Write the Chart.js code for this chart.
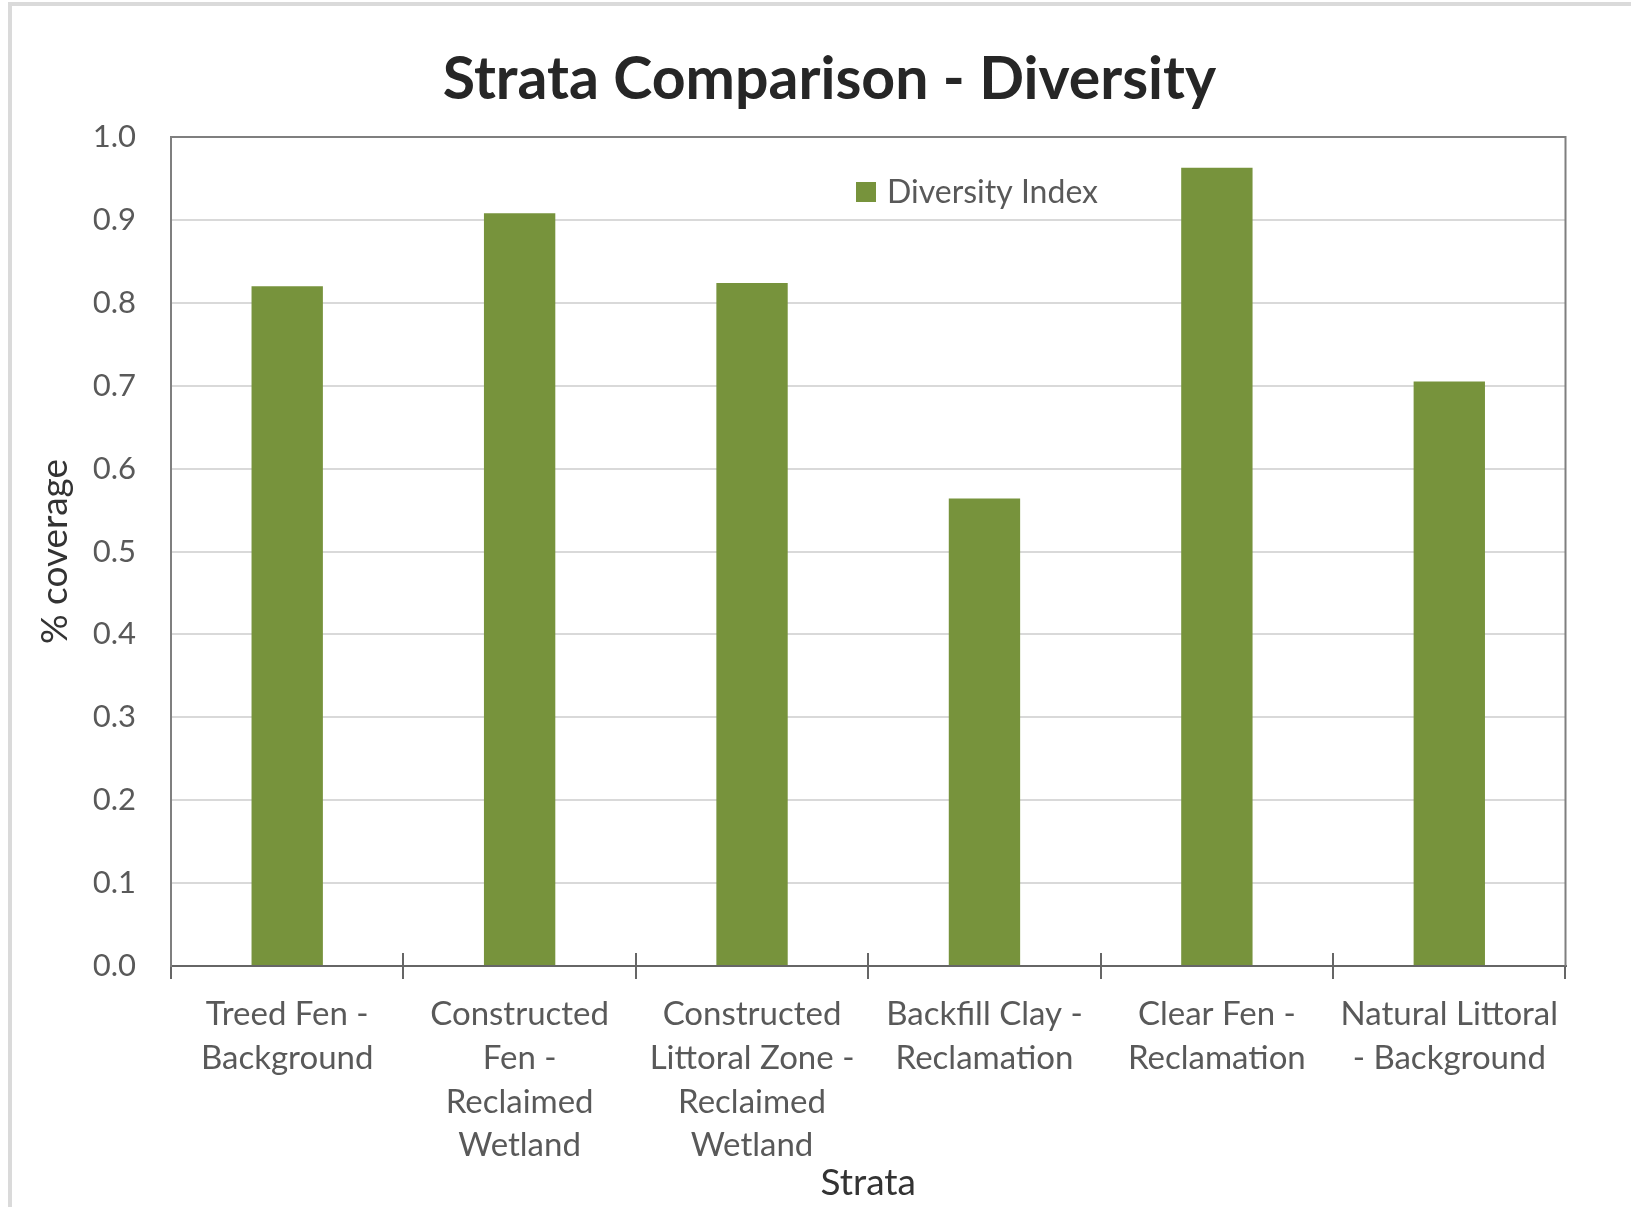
<!DOCTYPE html>
<html>
<head>
<meta charset="utf-8">
<title>Strata Comparison - Diversity</title>
<script src="https://cdn.jsdelivr.net/npm/chart.js@4.4.1/dist/chart.umd.min.js"></script>
<style>
    html, body {
        margin: 0;
        padding: 0;
        background: #ffffff;
        overflow: hidden;
        width: 1631px;
        height: 1207px;
    }
    #chartFrame {
        position: absolute;
        left: 8px;
        top: 2px;
        width: 1700px;
        height: 1300px;
        border: 4px solid #dadada;
        box-sizing: border-box;
    }
    #diversityChart {
        position: absolute;
        left: 12px;
        top: 6px;
    }
</style>
</head>
<body>
<div id="chartFrame"></div>
<canvas id="diversityChart" width="1635" height="1220"></canvas>

<script>
// Strata names, split into the lines shown under each bar
const strata = [
    ['Treed Fen -', 'Background'],
    ['Constructed', 'Fen -', 'Reclaimed', 'Wetland'],
    ['Constructed', 'Littoral Zone -', 'Reclaimed', 'Wetland'],
    ['Backfill Clay -', 'Reclamation'],
    ['Clear Fen -', 'Reclamation'],
    ['Natural Littoral', '- Background']
];

// Diversity index per stratum
const diversityIndex = [0.82, 0.908, 0.824, 0.564, 0.963, 0.705];

const yTicks = [0.0, 0.1, 0.2, 0.3, 0.4, 0.5, 0.6, 0.7, 0.8, 0.9, 1.0];

const BAR_GREEN = '#77933C';
const LABEL_GREY = '#595959';
const FONT = 'Lato';

let diversityChart;

// Top and right edges of the plot box
const plotFrame = {
    id: 'plotFrame',
    afterDatasetsDraw(chart) {
        const { ctx, chartArea } = chart;
        ctx.save();
        ctx.strokeStyle = '#7f7f7f';
        ctx.lineWidth = 2;
        ctx.beginPath();
        ctx.moveTo(chartArea.left, chartArea.top);
        ctx.lineTo(chartArea.right, chartArea.top);
        ctx.lineTo(chartArea.right, chartArea.bottom);
        ctx.stroke();
        ctx.restore();
    }
};

// Category dividers cross the x axis, so draw their upper half too
const crossTicks = {
    id: 'crossTicks',
    afterDatasetsDraw(chart) {
        const { ctx } = chart;
        const x = chart.scales.x;
        ctx.save();
        ctx.strokeStyle = '#666666';
        ctx.lineWidth = 2;
        ctx.beginPath();
        for (let i = 1; i < strata.length; i++) {
            const px = Math.round(x.getPixelForValue(i - 0.5));
            ctx.moveTo(px, x.top);
            ctx.lineTo(px, x.top - 13);
        }
        ctx.stroke();
        ctx.restore();
    }
};

// Legend sits inside the plot, so it is drawn by hand
const innerLegend = {
    id: 'innerLegend',
    afterDraw(chart) {
        const { ctx } = chart;
        const ds = chart.data.datasets[0];
        ctx.save();
        ctx.fillStyle = ds.backgroundColor;
        ctx.fillRect(844, 176, 20, 20);
        ctx.fillStyle = LABEL_GREY;
        ctx.font = '32px ' + FONT;
        ctx.textBaseline = 'middle';
        ctx.textAlign = 'left';
        ctx.fillText(ds.label, 875, 187);
        ctx.restore();
    }
};

function initializeChart() {
    const ctx = document.getElementById('diversityChart').getContext('2d');

    diversityChart = new Chart(ctx, {
        type: 'bar',
        data: {
            labels: strata,
            datasets: [{
                label: 'Diversity Index',
                data: diversityIndex,
                backgroundColor: BAR_GREEN,
                borderWidth: 0,
                barPercentage: 0.307,
                categoryPercentage: 1.0
            }]
        },
        options: {
            responsive: false,
            animation: false,
            devicePixelRatio: 1,
            // equal side padding keeps the title centred on the whole chart
            layout: {
                padding: { left: 81.5, right: 81.5, top: 0, bottom: 0 }
            },
            plugins: {
                legend: { display: false },
                tooltip: { enabled: false },
                title: {
                    display: true,
                    text: 'Strata Comparison - Diversity',
                    color: '#262626',
                    font: { family: FONT, size: 59, weight: 'bold', lineHeight: 1.2 },
                    padding: { top: 38.6, bottom: 21.6 }
                }
            },
            scales: {
                x: {
                    afterFit(scale) { scale.height = 260; },
                    grid: {
                        offset: true,
                        drawOnChartArea: false,
                        drawTicks: true,
                        tickLength: 13,
                        color: '#666666',
                        lineWidth: 2
                    },
                    border: { color: '#666666', width: 2 },
                    ticks: {
                        color: LABEL_GREY,
                        font: { family: FONT, size: 33, lineHeight: 1.32 },
                        padding: 14,
                        maxRotation: 0,
                        autoSkip: false
                    },
                    title: {
                        display: true,
                        text: 'Strata',
                        color: '#333333',
                        font: { family: FONT, size: 37, lineHeight: 1.2 },
                        padding: { top: 0, bottom: 20.8 }
                    }
                },
                y: {
                    min: 0,
                    max: 1,
                    afterFit(scale) { scale.width = 77.5; },
                    afterBuildTicks(scale) {
                        scale.ticks = yTicks.map(v => ({ value: v }));
                    },
                    grid: {
                        color: '#d9d9d9',
                        lineWidth: 2,
                        drawTicks: false
                    },
                    border: { color: '#7f7f7f', width: 2 },
                    ticks: {
                        color: LABEL_GREY,
                        font: { family: FONT, size: 31 },
                        padding: 35,
                        callback: v => Number(v).toFixed(1)
                    },
                    title: {
                        display: true,
                        text: '% coverage',
                        color: '#333333',
                        font: { family: FONT, size: 37, lineHeight: 1.2 },
                        // axis title sits out in the left margin
                        padding: { top: -60.7, bottom: 0 }
                    }
                }
            }
        },
        plugins: [plotFrame, crossTicks, innerLegend]
    });
}

window.onload = initializeChart;
</script>
</body>
</html>
